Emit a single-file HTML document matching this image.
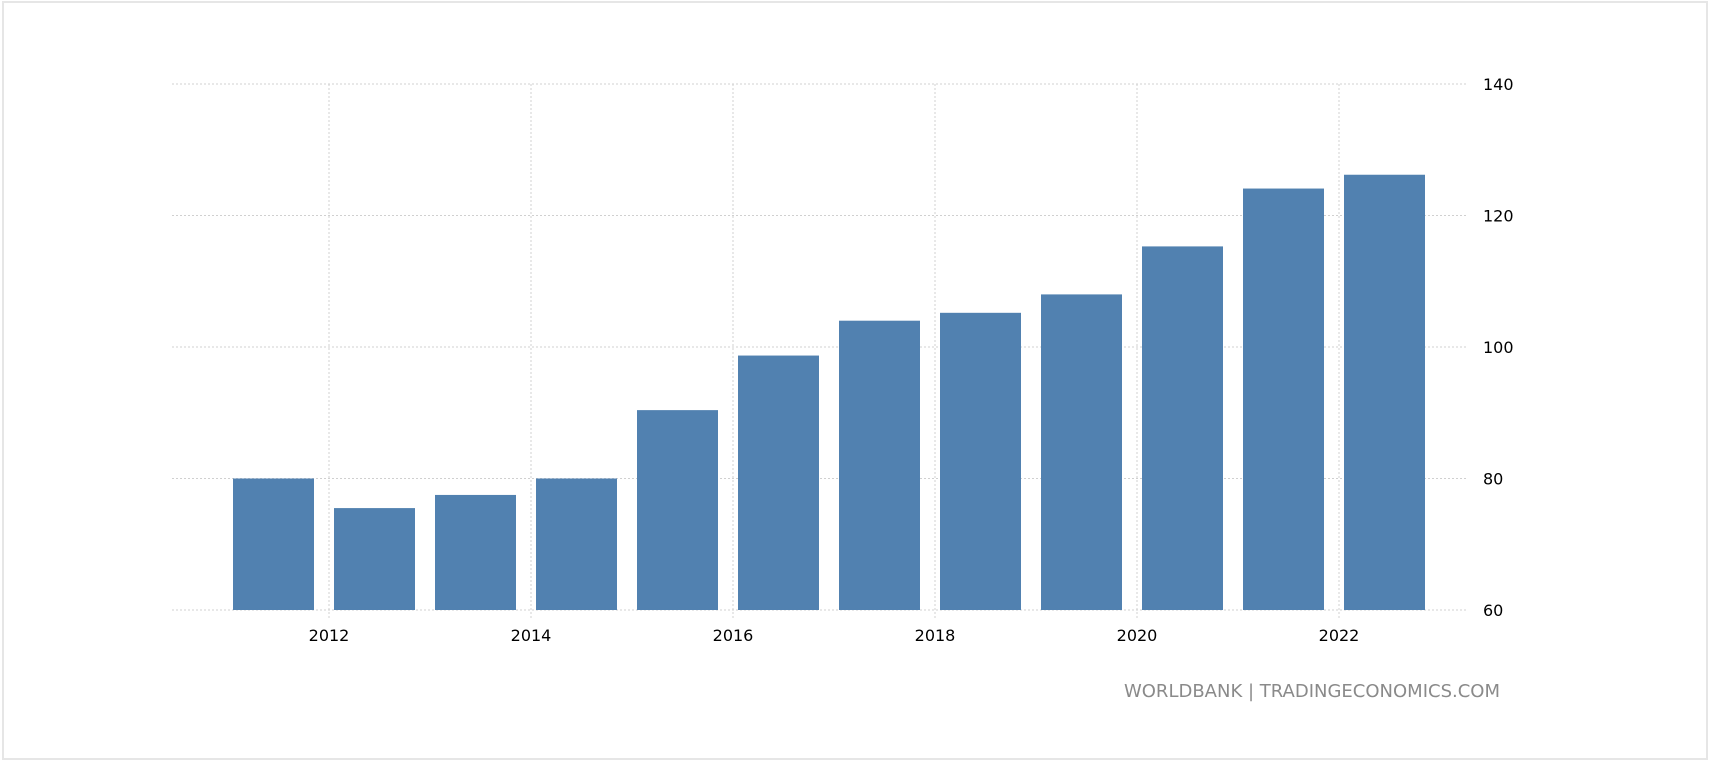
<!DOCTYPE html>
<html><head><meta charset="utf-8"><style>
body{margin:0;background:#fff;}
svg{display:block;font-family:"DejaVu Sans","Liberation Sans",sans-serif;}
</style></head><body>
<svg id="chart" width="1710" height="764">
<rect x="3" y="2" width="1704" height="757" fill="#fff" stroke="#e6e6e6" stroke-width="2"/>
<g id="grid"></g><g id="bars"></g><g id="labels"></g>
<text x="1500" y="697" text-anchor="end" font-size="18" fill="#8a8a8a">WORLDBANK | TRADINGECONOMICS.COM</text>
</svg>
<script>
const years=[2011,2012,2013,2014,2015,2016,2017,2018,2019,2020,2021,2022];
const values=[80,75.5,77.5,80,90.4,98.7,104,105.2,108,115.3,124.1,126.2];
const yTicks=[60,80,100,120,140];
const xTicks=[2012,2014,2016,2018,2020,2022];
const NS="http://www.w3.org/2000/svg";
const y=v=>610-(v-60)*131.5/20;
const xc=yr=>273.5+(yr-2011)*101;
const xt=yr=>xc(yr)-45.5;
function mk(t,a,p){const e=document.createElementNS(NS,t);for(const k in a)e.setAttribute(k,a[k]);p.appendChild(e);return e;}
const g=document.getElementById('grid'),b=document.getElementById('bars'),l=document.getElementById('labels');
yTicks.forEach(v=>{
 const ln=mk('line',{x1:172,x2:1467,y1:y(v),y2:y(v),stroke:'#d0d0d0','stroke-dasharray':'2,2'},g);
 
 
 const t=mk('text',{x:1483,y:y(v)+6,'font-size':16,fill:'#000'},l);t.textContent=v;
 
 
});
xTicks.forEach(yr=>{
 const ln=mk('line',{x1:xt(yr),x2:xt(yr),y1:84,y2:618,stroke:'#d0d0d0','stroke-dasharray':'2,2'},g);
 
 
 const t=mk('text',{x:xt(yr),y:641,'font-size':16,fill:'#000','text-anchor':'middle'},l);t.textContent=yr;
 
 
});
years.forEach((yr,i)=>{
 const r=mk('rect',{x:xc(yr)-40.5,y:y(values[i]),width:81,height:610-y(values[i]),fill:'#5181b0'},b);
 
 
});
</script>
</body></html>
